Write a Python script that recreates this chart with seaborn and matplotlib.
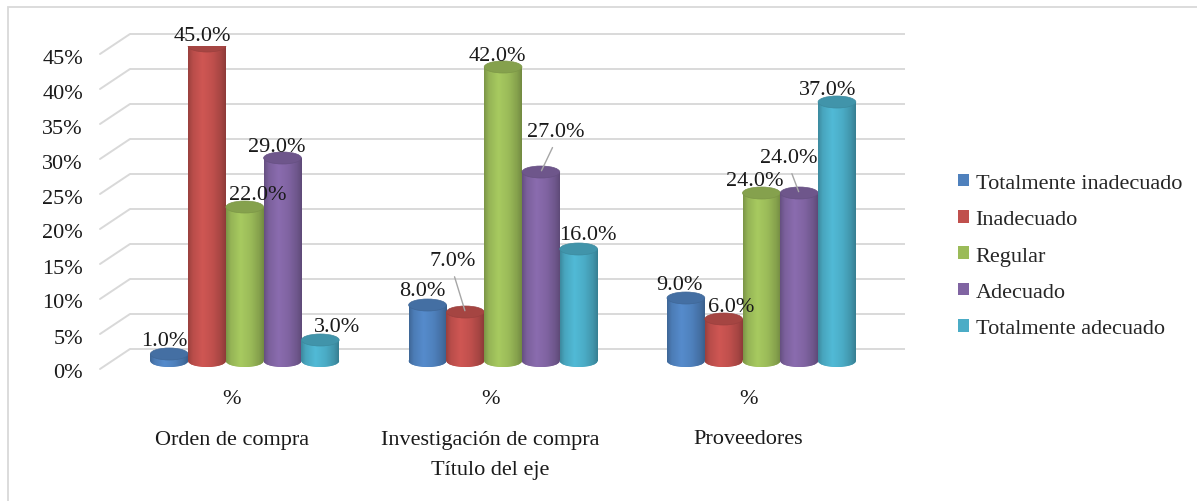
import numpy as np
import pandas as pd
import matplotlib
matplotlib.use("Agg")
import matplotlib.pyplot as plt
import matplotlib.colors as mcolors
import seaborn as sns
from matplotlib.patches import Ellipse, Rectangle, Patch
from matplotlib.lines import Line2D
from matplotlib.transforms import ScaledTranslation, IdentityTransform

# ---- data -------------------------------------------------------------
categories = ["Orden de compra", "Investigación de compra", "Proveedores"]
subcategory = "%"
levels = ["Totalmente inadecuado", "Inadecuado", "Regular", "Adecuado",
          "Totalmente adecuado"]
totalmente_inadecuado = [1.0, 8.0, 9.0]
inadecuado = [45.0, 7.0, 6.0]
regular = [22.0, 42.0, 24.0]
adecuado = [29.0, 27.0, 24.0]
totalmente_adecuado = [3.0, 16.0, 37.0]
y_ticks = [0, 5, 10, 15, 20, 25, 30, 35, 40, 45]
y_tick_labels = ["0%", "5%", "10%", "15%", "20%", "25%", "30%", "35%", "40%", "45%"]
axis_title = "Título del eje"

series = [totalmente_inadecuado, inadecuado, regular, adecuado, totalmente_adecuado]
df = pd.DataFrame({
    "categoria": np.repeat([categories], len(levels), axis=0).ravel(),
    "nivel": np.repeat(levels, len(categories)),
    "valor": np.concatenate(series),
})

# ---- style ------------------------------------------------------------
colors = ["#4F81BD", "#C0504D", "#9BBB59", "#8064A2", "#4BACC6"]
grid_color = "#D9D9D9"
text_color = "#1a1a1a"
FONT = "Liberation Serif"
FS = 16

# label nudges in pixels (dx, dy) from the top of each cylinder; True = leader line
label_nudges = {
    (0, 0): (-5, 13, False), (1, 0): (-5, 11, False), (2, 0): (13, 12, False),
    (3, 0): (-6, 12, False), (4, 0): (17, 14, False),
    (0, 1): (-5, 14, False), (1, 1): (-13, 52, True), (2, 1): (-6, 12, False),
    (3, 1): (15, 41, True), (4, 1): (9, 15, False),
    (0, 2): (-6, 13, False), (1, 2): (8, 13, False), (2, 2): (-7, 13, False),
    (3, 2): (-10, 36, True), (4, 2): (-9, 13, False),
}

W, H = 1197, 502
DPI = 100
sns.set_theme(style="white")
plt.rcParams["font.family"] = [FONT, "DejaVu Serif"]

fig = plt.figure(figsize=(W / DPI, H / DPI), dpi=DPI)
fig.patch.set_facecolor("white")

# axes represent the mid-depth plane where the cylinders stand
Y_MIN, Y_MAX = -3, 45
PX_PER_PCT = 7.0
zero_px = 362
ax_left, ax_w = 113, 775
ax_bottom_px = zero_px - Y_MIN * PX_PER_PCT
ax_h = (Y_MAX - Y_MIN) * PX_PER_PCT
ax = fig.add_axes([ax_left / W, (H - ax_bottom_px) / H, ax_w / W, ax_h / H])

sns.barplot(data=df, x="categoria", y="valor", hue="nivel", order=categories,
            hue_order=levels, palette=colors, width=0.731, gap=0,
            saturation=1, ax=ax, legend=False, linewidth=0, zorder=3)
XLIM = (-0.51, 2.49)
ax.set_xlim(*XLIM)
ax.set_ylim(Y_MIN, Y_MAX)
ax.set_axis_off()


def off(dx, dy):
    return ScaledTranslation(dx / DPI, dy / DPI, fig.dpi_scale_trans)


FRONT = (-13, -8)
BACK = (17, 12)

# back wall gridlines and the left floor/wall diagonals
for v, lab in zip(y_ticks, y_tick_labels):
    ax.plot([0, 1], [v, v], color=grid_color, lw=1.4, solid_capstyle="butt",
            transform=ax.get_yaxis_transform() + off(*BACK), clip_on=False, zorder=0)
    p = ax.transData.transform((XLIM[0], v))
    fig.add_artist(Line2D([p[0] + FRONT[0], p[0] + BACK[0]],
                          [p[1] + FRONT[1], p[1] + BACK[1]],
                          color=grid_color, lw=1.4, transform=IdentityTransform()))
    ax.text(-0.0387, v, lab, ha="right", va="center", fontsize=FS, color=text_color,
            transform=ax.get_yaxis_transform() + off(0, FRONT[1] - 4))

# cylinder shading
cap_h = 12 / PX_PER_PCT
t = np.linspace(0, 1, 64)
shade = np.interp(t, [0, 0.12, 0.38, 0.65, 0.88, 1],
                  [0.80, 0.96, 1.08, 1.0, 0.86, 0.74])


def gradient(rgb):
    return np.clip(np.outer(np.ones(2), shade)[..., None] * np.array(rgb)[None, None, :], 0, 1)


for li, cont in enumerate(ax.containers):
    rgb = mcolors.to_rgb(colors[li])
    img = gradient(rgb)
    for ci, bar in enumerate(cont):
        x0 = bar.get_x()
        w = bar.get_width()
        v = bar.get_height()
        cx = x0 + w / 2
        z = 3 + li * 0.1
        bar.set_zorder(z)
        im = ax.imshow(img, extent=(x0, x0 + w, 0, v), aspect="auto",
                       origin="lower", zorder=z + 0.01, interpolation="bilinear")
        im.set_clip_path(bar)
        bottom = Ellipse((cx, 0), w, cap_h, facecolor=rgb, edgecolor="none",
                         zorder=z - 0.02)
        ax.add_patch(bottom)
        im2 = ax.imshow(img, extent=(x0, x0 + w, -cap_h, cap_h), aspect="auto",
                        origin="lower", zorder=z - 0.01, interpolation="bilinear")
        im2.set_clip_path(bottom)
        top_col = np.clip(np.array(rgb) * 0.86, 0, 1)
        ax.add_patch(Ellipse((cx, v), w, cap_h, facecolor=top_col,
                             edgecolor=np.clip(np.array(rgb) * 0.8, 0, 1),
                             lw=0.5, zorder=z + 0.02))

        dx, dy, leader = label_nudges[(li, ci)]
        txt = f"{v:.1f}%"
        kw = dict(xy=(cx, v), xytext=(dx, dy), textcoords="offset pixels",
                  ha="center", va="center", fontsize=FS, color=text_color,
                  zorder=10, annotation_clip=False)
        if leader:
            kw["arrowprops"] = dict(arrowstyle="-", color="#A6A6A6", lw=1,
                                    shrinkA=3, shrinkB=1, relpos=(0.5, 0))
        ax.annotate(txt, **kw)

ax.set_xlim(*XLIM)
ax.set_ylim(Y_MIN, Y_MAX)

# category axis (front plane)
for i, cat in enumerate(categories):
    ax.text(i, 0, subcategory, ha="center", va="center", fontsize=FS, color=text_color,
            transform=ax.transData + off(-13, -38))
    ax.text(i, 0, cat, ha="center", va="center", fontsize=FS, color=text_color,
            transform=ax.transData + off(-13, -78))
ax.text(1, 0, axis_title, ha="center", va="center", fontsize=FS, color=text_color,
        transform=ax.transData + off(-13, -108))

# legend
handles = [Patch(facecolor=c, edgecolor="none") for c in colors]
fig.legend(handles, levels, loc="center left", bbox_to_anchor=(949 / W, 1 - 257 / H),
           frameon=False, fontsize=FS, handlelength=0.5, handleheight=0.5,
           handletextpad=0.3, labelspacing=0.77, borderaxespad=0)

# chart frame
fig.add_artist(Rectangle((7.5 / W, -0.1), 2, (H - 7.5) / H + 0.1,
                         transform=fig.transFigure, fill=False,
                         edgecolor=grid_color, lw=1.3))

fig.savefig("out.png", dpi=DPI)
